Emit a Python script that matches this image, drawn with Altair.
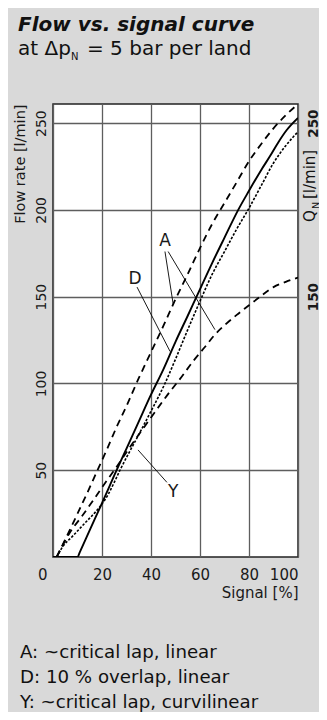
import altair as alt
import pandas as pd

FONT = "DejaVu Sans"
W, H = 245, 453

# ---------------- data ----------------
signal_ticks = [0, 20, 40, 60, 80, 100]
flow_ticks = [50, 100, 150, 200, 250]
qn_ticks = [150, 250]

# A: ~critical lap, linear (Q_N = 250)
a250_signal = [1.5, 6, 10, 14, 18, 22, 26, 30, 35, 40, 45, 50, 55, 60, 65, 70, 75, 80, 85, 90, 95, 100]
a250_flow = [0, 13, 25, 37, 49.5, 62, 75, 87, 103, 118, 133, 148.5, 163, 178, 192, 204, 216, 228, 238, 247, 254.5, 261]

# A: ~critical lap, linear (Q_N = 150)
a150_signal = [1.5, 6.7, 11.8, 16.6, 20.7, 26, 32, 38.8, 46.5, 52.6, 57.3, 62, 66, 70, 75, 80, 84.5, 90, 95, 100]
a150_flow = [0, 13.7, 23.5, 33, 41.5, 52, 64.5, 78, 93, 104, 113, 121, 128, 133.5, 139.5, 145, 150, 155.5, 158.5, 161]

# D: 10 % overlap, linear
d_signal = [0, 10, 11, 15, 20, 25, 30, 35, 40, 45, 50, 55, 58.6, 65, 70, 75.6, 80, 85, 88.6, 92, 95.4, 100]
d_flow = [0, 0, 3, 15.5, 31, 47, 62.5, 78, 93.5, 108, 124, 139, 150, 169.5, 184, 200, 211, 223, 231, 239, 246, 253]

# Y: ~critical lap, curvilinear
y_signal = [1.5, 4, 8, 13, 18, 20, 22.5, 25, 27.5, 31, 35, 40, 45.7, 50, 55, 60.5, 65, 70, 75, 79.6, 85, 90, 95, 100]
y_flow = [0, 6, 12, 19.5, 27, 30.5, 36, 43, 50.5, 60, 70.5, 84, 100, 114, 131, 149, 163, 176, 189, 200, 214, 227, 237, 245]

# curve labels and their pointer lines (signal %, flow l/min)
label_text = ["A", "D", "Y"]
label_signal = [45.7, 33.5, 49.1]
label_flow = [182, 160, 37.5]

ptr_from_signal = [45.7, 47.0, 34.3, 46.5]
ptr_from_flow = [176, 176, 155.5, 43]
ptr_to_signal = [49.1, 66.1, 47.8, 34.7]
ptr_to_flow = [145.3, 131, 118.4, 61.7]

title_text = "Flow vs. signal curve"
subtitle_parts = ["at Δp", "N", "= 5 bar per land"]
qn_parts = ["Q", "N", "[l/min]"]
notes_text = "A: ~critical lap, linear\nD: 10 % overlap, linear\nY: ~critical lap, curvilinear"

# ---------------- chart ----------------
xs = alt.Scale(domain=[0, 100], nice=False, zero=False)
ys = alt.Scale(domain=[0, 261], nice=False, zero=False)
INK = "#1a1a1a"

x_axis = alt.Axis(
    values=signal_ticks, grid=True, gridColor="#5e5e5e", gridWidth=1.3,
    ticks=False, tickSize=0, domain=False,
    labelFont=FONT, labelFontSize=15, labelColor=INK,
    labelBaseline="alphabetic", labelPadding=22,
    labelAlign={"condition": {"test": "datum.value === 0 || datum.value === 100", "value": "right"}, "value": "center"},
    labelOffset={"condition": {"test": "datum.value === 0", "value": -6}, "value": 0},
    title="Signal [%]", titleFont=FONT, titleFontSize=15, titleFontWeight="normal",
    titleColor=INK, titleAlign="right", titleAnchor="end", titleBaseline="alphabetic",
    titleX=W, titleY=40,
)
y_axis = alt.Axis(
    values=flow_ticks, grid=True, gridColor="#5e5e5e", gridWidth=1.3,
    ticks=False, tickSize=0, domain=False,
    labelFont=FONT, labelFontSize=14, labelColor=INK,
    labelAngle=-90, labelAlign="center", labelBaseline="alphabetic", labelPadding=8,
    title="Flow rate [l/min]", titleFont=FONT, titleFontSize=14.5, titleFontWeight="normal",
    titleColor=INK, titleAngle=-90, titleAlign="right", titleAnchor="end",
    titleBaseline="alphabetic", titleX=-29, titleY=0,
)
r_axis = alt.Axis(
    orient="right", values=qn_ticks, grid=False, ticks=False, tickSize=0, domain=False,
    labelFont=FONT, labelFontSize=13.5, labelFontWeight="bold", labelColor=INK,
    labelAngle=-90, labelAlign="center", labelBaseline="top", labelPadding=8,
    title=None,
)


def curve(sig, flo, width, dash=None, xa=None, ya=None):
    d = pd.DataFrame({"s": sig, "f": flo})
    kw = dict(color="black", strokeWidth=width, interpolate="monotone", clip=True)
    if dash is not None:
        kw["strokeDash"] = dash
    return alt.Chart(d).mark_line(**kw).encode(
        x=alt.X("s:Q", scale=xs, axis=xa),
        y=alt.Y("f:Q", scale=ys, axis=ya),
    )


l_a250 = curve(a250_signal, a250_flow, 1.8, [7, 5], xa=x_axis, ya=y_axis)
l_a150 = curve(a150_signal, a150_flow, 1.8, [7, 5], ya=r_axis)
l_d = curve(d_signal, d_flow, 1.9)
l_y = curve(y_signal, y_flow, 1.6, [2.5, 1.6])

ptr_df = pd.DataFrame({"x1": ptr_from_signal, "y1": ptr_from_flow,
                       "x2": ptr_to_signal, "y2": ptr_to_flow})
pointers = alt.Chart(ptr_df).mark_rule(color="black", strokeWidth=0.9).encode(
    x=alt.X("x1:Q", scale=xs, axis=None), y=alt.Y("y1:Q", scale=ys, axis=None),
    x2="x2:Q", y2="y2:Q",
)

lab_df = pd.DataFrame({"t": label_text, "s": label_signal, "f": label_flow})
labels = alt.Chart(lab_df).mark_text(font=FONT, fontSize=17, color=INK,
                                     align="center", baseline="middle").encode(
    x=alt.X("s:Q", scale=xs, axis=None), y=alt.Y("f:Q", scale=ys, axis=None), text="t:N",
)


def ptext(t, x, y, **kw):
    base = dict(font=FONT, color="#111111", align="left", baseline="alphabetic")
    base.update(kw)
    return alt.Chart(pd.DataFrame({"t": [t]})).mark_text(**base).encode(
        text="t:N", x=alt.value(x), y=alt.value(y))


title = ptext(title_text, -35, -73, fontSize=20, fontWeight="bold", fontStyle="italic")
sub1 = ptext(subtitle_parts[0], -35, -49, fontSize=20)
sub2 = ptext(subtitle_parts[1], 18, -44, fontSize=10)
sub3 = ptext(subtitle_parts[2], 34, -49, fontSize=20)

qn1 = ptext(qn_parts[0], 262, 118, fontSize=15, angle=270)
qn2 = ptext(qn_parts[1], 265.5, 105, fontSize=9.5, angle=270)
qn3 = ptext(qn_parts[2], 262, 95, fontSize=15, angle=270)

notes = ptext(notes_text, -33, 554, fontSize=18.2, lineBreak="\n", lineHeight=25)

chart = alt.layer(
    l_a250, l_a150, l_d, l_y, pointers, labels,
    title, sub1, sub2, sub3, qn1, qn2, qn3, notes,
).resolve_axis(x="independent", y="independent").properties(
    width=W, height=H,
    background="#d9d9d9",
    padding={"left": 45, "top": 96, "right": 21, "bottom": 155},
    autosize=alt.AutoSizeParams(type="none"),
).configure_view(stroke="#222222", strokeWidth=1.5, fill="white")

chart.save("out.html", embed_options={"renderer": "svg", "actions": False})
